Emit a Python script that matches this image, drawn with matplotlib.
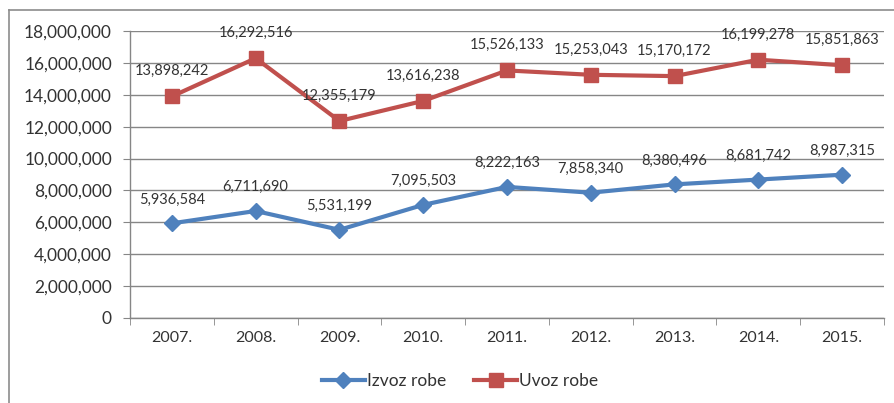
import matplotlib.pyplot as plt
from matplotlib.lines import Line2D
from matplotlib.ticker import FuncFormatter

years = ['2007.', '2008.', '2009.', '2010.', '2011.', '2012.', '2013.', '2014.', '2015.']
izvoz = [5936584, 6711690, 5531199, 7095503, 8222163, 7858340, 8380496, 8681742, 8987315]
uvoz = [13898242, 16292516, 12355179, 13616238, 15526133, 15253043, 15170172, 16199278, 15851863]

blue = '#4F81BD'
red = '#C0504D'
grid_gray = '#868686'
txt = '#333333'

plt.rcParams['font.family'] = ['Lato', 'DejaVu Sans']

fig = plt.figure(figsize=(8.94, 4.03), dpi=100)
ax = fig.add_axes([130 / 894, 1 - 318 / 403, 754 / 894, 287 / 403])

x = list(range(len(years)))
ax.plot(x, izvoz, color=blue, lw=3, marker='D', markersize=8, label='Izvoz robe', zorder=3)
ax.plot(x, uvoz, color=red, lw=3, marker='s', markersize=10, label='Uvoz robe', zorder=3)

# data labels above points
for i, v in enumerate(izvoz):
    ax.annotate(f'{v:,}', (i, v), xytext=(0, 12), textcoords='offset points',
                ha='center', va='bottom', fontsize=10.5, color=txt)
for i, v in enumerate(uvoz):
    ax.annotate(f'{v:,}', (i, v), xytext=(0, 13), textcoords='offset points',
                ha='center', va='bottom', fontsize=10.5, color=txt)

ax.set_xlim(-0.5, len(years) - 0.5)
ax.set_ylim(0, 18000000)
ax.set_yticks(range(0, 18000001, 2000000))
ax.yaxis.set_major_formatter(FuncFormatter(lambda v, p: f'{int(v):,}'))
ax.set_xticks(x)
ax.set_xticklabels(years)
ax.set_xticks([i - 0.5 for i in range(len(years) + 1)], minor=True)
ax.tick_params(axis='x', which='major', length=0, pad=9, labelsize=11.5, labelcolor=txt)
ax.tick_params(axis='x', which='minor', length=5, color=grid_gray, direction='out')
ax.tick_params(axis='y', length=5, color=grid_gray, pad=8, labelsize=12.5, labelcolor=txt)

ax.grid(axis='y', color=grid_gray, lw=1)
ax.set_axisbelow(True)
for s in ['top', 'right']:
    ax.spines[s].set_visible(False)
for s in ['left', 'bottom']:
    ax.spines[s].set_color(grid_gray)
    ax.spines[s].set_linewidth(1)

leg = fig.legend(loc='center', bbox_to_anchor=(460 / 894, 1 - 381 / 403), ncol=2,
                 frameon=False, fontsize=12.5, handlelength=2.5, columnspacing=1.6,
                 handletextpad=0.1)
for t in leg.get_texts():
    t.set_color(txt)

# outer chart frame
fig.add_artist(Line2D([9 / 894, 9 / 894], [0, 1 - 10 / 403], transform=fig.transFigure,
                      color='#8c8c8c', lw=1.2))
fig.add_artist(Line2D([9 / 894, 1], [1 - 10 / 403, 1 - 10 / 403], transform=fig.transFigure,
                      color='#8c8c8c', lw=1.2))

fig.savefig('out.png', dpi=100)
